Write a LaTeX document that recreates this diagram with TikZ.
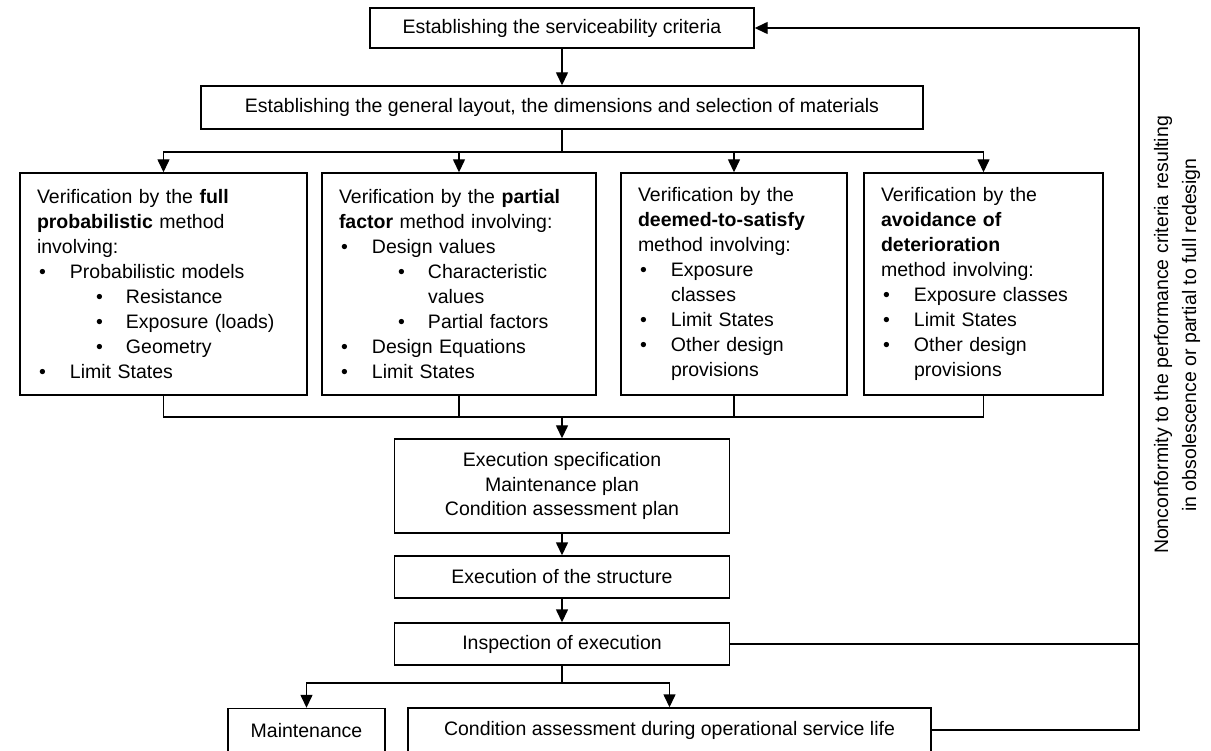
\documentclass[tikz,border=0pt]{standalone}
\usepackage{fontspec}
\setmainfont{Liberation Sans}
\usetikzlibrary{positioning, arrows.meta}

\newcommand{\bul}[1]{\hspace*{2pt}\makebox[31pt][l]{\textbullet}#1}
\newcommand{\subbul}[1]{\hspace*{59pt}\makebox[30pt][l]{\textbullet}#1}
\newcommand{\cont}[1]{\hspace*{33pt}#1}
\newcommand{\subcont}[1]{\hspace*{89pt}#1}

\tikzset{
  stage/.style={draw, rectangle, line width=1.4pt, inner sep=0pt, align=center},
  method/.style={draw, rectangle, line width=1.4pt, inner xsep=17pt, inner ysep=0pt,
                 align=left, minimum height=222pt},
  flow/.style={line width=1.4pt, -{Triangle[length=13pt, width=12pt]}},
  link/.style={line width=1.4pt},
}

\begin{document}
\begin{tikzpicture}[x=1pt, y=-1pt, font=\fontsize{19.5}{25}\selectfont]
        \useasboundingbox (0,0) rectangle (1211,751);
        \clip (0,0) rectangle (1211,751);

        % Nodes
        \node[stage, minimum width=384pt, minimum height=40pt] (crit) at (562,28)
            {Establishing the serviceability criteria};
        \node[stage, minimum width=722pt, minimum height=43pt] (layout) at (562,107.5)
            {Establishing the general layout, the dimensions and selection of materials};

        \node[method, text width=253pt] (full) at (163.5,284)
            {Verification by the \textbf{full}\\
             \textbf{probabilistic} method\\
             involving:\\
             \bul{Probabilistic models}\\
             \subbul{Resistance}\\
             \subbul{Exposure (loads)}\\
             \subbul{Geometry}\\
             \bul{Limit States}};
        \node[method, text width=240pt] (partial) at (459,284)
            {Verification by the \textbf{partial}\\
             \textbf{factor} method involving:\\
             \bul{Design values}\\
             \subbul{Characteristic}\\
             \subcont{values}\\
             \subbul{Partial factors}\\
             \bul{Design Equations}\\
             \bul{Limit States}};
        \node[method, text width=192pt] (deemed) at (734,284)
            {Verification by the\\
             \textbf{deemed-to-satisfy}\\
             method involving:\\
             \bul{Exposure}\\
             \cont{classes}\\
             \bul{Limit States}\\
             \bul{Other design}\\
             \cont{provisions}};
        \node[method, text width=205pt] (avoid) at (983.5,284)
            {Verification by the\\
             \textbf{avoidance of}\\
             \textbf{deterioration}\\
             method involving:\\
             \bul{Exposure classes}\\
             \bul{Limit States}\\
             \bul{Other design}\\
             \cont{provisions}};

        \node[stage, minimum width=335pt, minimum height=94pt,
              font=\fontsize{19.5}{24.5}\selectfont] (spec) at (562,486)
            {Execution specification\\Maintenance plan\\Condition assessment plan};
        \node[stage, minimum width=335pt, minimum height=42pt] (exec) at (562,577)
            {Execution of the structure};
        \node[stage, minimum width=335pt, minimum height=42pt] (insp) at (562,644)
            {Inspection of execution};
        \node[stage, minimum width=157pt, minimum height=44pt] (maint) at (306.5,730.5)
            {Maintenance};
        \node[stage, minimum width=523pt, minimum height=44pt] (cond) at (669.5,730)
            {Condition assessment during operational service life};

        \node[rotate=90, align=center, font=\fontsize{19.5}{28}\selectfont] (note) at (1177,335)
            {Nonconformity to the performance criteria resulting\\
             in obsolescence or partial to full redesign};

        % Edges
        \coordinate (fork) at (562,152);
        \coordinate (join) at (562,417);
        \coordinate (split) at (562,683);
        \coordinate (loop) at (1139,28);

        \draw[flow] (crit) -- (layout);
        \draw[link] (layout) -- (fork);
        \foreach \m in {full, partial, deemed, avoid}
            \draw[flow] (fork) -| (\m);
        \foreach \m in {full, partial, deemed, avoid}
            \draw[link] (\m) |- (join);
        \draw[flow] (join) -- (spec);
        \draw[flow] (spec) -- (exec);
        \draw[flow] (exec) -- (insp);
        \draw[link] (insp) -- (split);
        \draw[flow] (split) -| (maint);
        \draw[flow] (split) -| (cond);
        \draw[link] (insp) -- (insp -| loop);
        \draw[flow] (cond) -| (loop) -- (crit);
    \end{tikzpicture}
\end{document}
